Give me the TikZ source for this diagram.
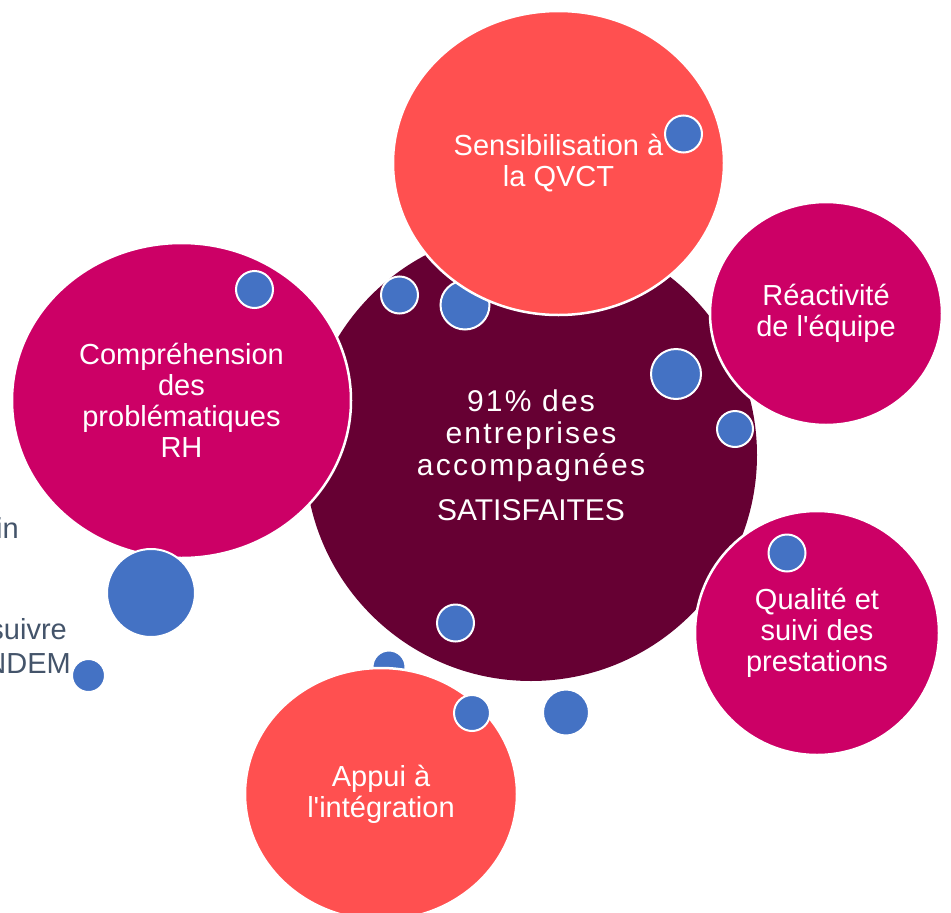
\documentclass[tikz,border=0pt]{standalone}
\usepackage{fontspec}
\setmainfont{Liberation Sans}
\newfontfamily\spacedfont[LetterSpace=7.5]{Liberation Sans}
\usetikzlibrary{shapes.geometric}
\definecolor{darkwine}{HTML}{660033}
\definecolor{magentab}{HTML}{CC0066}
\definecolor{coral}{HTML}{FF5050}
\definecolor{dotblue}{HTML}{4472C4}
\definecolor{slategray}{HTML}{44546A}
\tikzset{
  bigbub/.style={ellipse, draw=white, line width=2.5pt, inner sep=0pt, text=white,
    align=center, font=\fontsize{29}{31}\selectfont},
  dot/.style={circle, fill=dotblue, draw=white, line width=2pt, inner sep=0pt},
  sidetext/.style={text=slategray, font=\fontsize{29}{31}\selectfont, inner sep=0pt, anchor=base east}
}
\begin{document}
\begin{tikzpicture}[x=1pt,y=-1pt]
\useasboundingbox (0,0) rectangle (951,913);
\clip (0,0) rectangle (951,913);
% side texts (cut off at the left edge, as in the reference)
\node[sidetext] (t1) at (19,538) {in};
\node[sidetext] (t2) at (67,639) {suivre};
\node[sidetext] (t3) at (71,673) {NDEM};
% central circle
\node[circle, fill=darkwine, inner sep=0pt, minimum size=452pt, text=white,
  align=center, font=\fontsize{30}{32}\selectfont] (core) at (531,455)
  {{\spacedfont 91\% des}\\{\spacedfont entreprises}\\{\spacedfont accompagnées}\\[13pt]SATISFAITES};
% dots behind the bubbles
\node[dot, minimum size=49pt] (d3) at (465,305) {};
\node[dot, minimum size=33pt] (d10) at (389,667) {};
% outer bubbles
\node[bigbub, fill=coral, minimum width=331pt, minimum height=304pt] (sens) at (558.5,163)
  {Sensibilisation à\\la QVCT};
\node[bigbub, fill=magentab, minimum width=339pt, minimum height=315pt] (comp) at (181.5,400.5)
  {Compréhension\\des\\problématiques\\RH};
\node[bigbub, fill=magentab, minimum width=232pt, minimum height=223pt] (reac) at (826,313.5)
  {Réactivité\\de l\textquotesingle équipe};
\node[bigbub, fill=magentab, minimum width=244pt, minimum height=244pt] (qual) at (817,633)
  {Qualité et\\suivi des\\prestations};
\node[bigbub, fill=coral, minimum width=272pt, minimum height=252pt] (appui) at (381,794)
  {Appui à\\l\textquotesingle intégration};
% dots in front
\node[dot, minimum size=37pt] (d1) at (683.5,134) {};
\node[dot, minimum size=37pt] (d2) at (399.5,295) {};
\node[dot, minimum size=50pt] (d4) at (676,374) {};
\node[dot, minimum size=36pt] (d5) at (735,429) {};
\node[dot, minimum size=37pt] (d6) at (254.5,289.5) {};
\node[dot, minimum size=88pt] (d7) at (151,593) {};
\node[dot, minimum size=33pt] (d8) at (88.5,675.5) {};
\node[dot, minimum size=37pt] (d9) at (455.5,623) {};
\node[dot, minimum size=36pt] (d11) at (472,713) {};
\node[dot, minimum size=46pt] (d12) at (566,712.5) {};
\node[dot, minimum size=37pt] (d13) at (787,553) {};
\end{tikzpicture}
\end{document}
